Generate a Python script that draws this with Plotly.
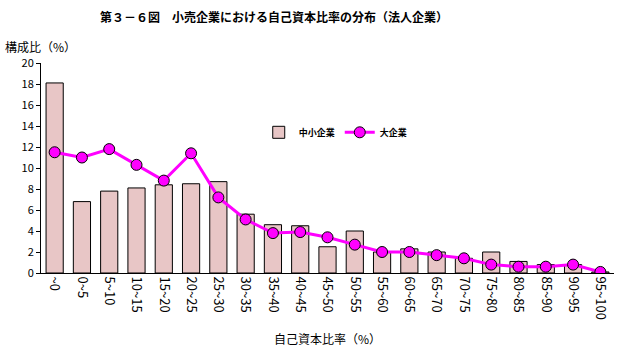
import plotly.graph_objects as go

categories = ["~0", "0~5", "5~10", "10~15", "15~20", "20~25", "25~30", "30~35", "35~40", "40~45",
              "45~50", "50~55", "55~60", "60~65", "65~70", "70~75", "75~80", "80~85", "85~90",
              "90~95", "95~100"]
sme = [18.1, 6.8, 7.8, 8.1, 8.4, 8.5, 8.7, 5.6, 4.6, 4.5,
       2.5, 4.0, 2.0, 2.3, 2.0, 1.4, 2.0, 1.1, 0.8, 0.8, 0.1]
large = [11.5, 11.0, 11.8, 10.3, 8.8, 11.4, 7.2, 5.1, 3.8, 3.9,
         3.4, 2.7, 2.0, 2.0, 1.7, 1.4, 0.8, 0.6, 0.6, 0.8, 0.1]
yticks = list(range(0, 21, 2))

font = "Noto Sans CJK JP"

fig = go.Figure()
fig.add_trace(go.Bar(x=categories, y=sme, name="中小企業", width=0.63,
                     marker=dict(color="#E8C6C6", line=dict(color="black", width=1))))
fig.add_trace(go.Scatter(x=categories, y=large, name="大企業", mode="lines+markers",
                         line=dict(color="#FF00FF", width=3),
                         marker=dict(color="#FF00FF", size=11, line=dict(color="black", width=1))))

fig.update_layout(
    width=620, height=352,
    margin=dict(l=41, r=6, t=63, b=79, autoexpand=False),
    paper_bgcolor="white", plot_bgcolor="white",
    font=dict(family=font, color="black", size=11),
    showlegend=True,
    legend=dict(orientation="h", x=0.38, y=0.67, xanchor="left", yanchor="middle",
                font=dict(size=9, family=font, weight="bold"), bgcolor="rgba(0,0,0,0)",
                tracegroupgap=0),
    title=dict(text="<b>第３－６図　小売企業における自己資本比率の分布（法人企業）</b>",
               x=0.442, xanchor="center", y=0.95, yanchor="middle",
               font=dict(size=12, family=font)),
)
fig.update_xaxes(showline=True, linecolor="black", linewidth=1, tickangle=90, automargin=False,
                 range=[-0.5, len(categories) - 0.5],
                 ticks="", showgrid=False, tickfont=dict(size=13),
                 title=dict(text="自己資本比率（%）", font=dict(size=12), standoff=16))
fig.update_yaxes(range=[0, 20], tickvals=yticks, showline=True, linecolor="black", linewidth=1,
                 automargin=False,
                 ticks="outside", ticklen=4, tickcolor="black", showgrid=False, zeroline=False,
                 tickfont=dict(size=11))
fig.add_annotation(text="構成比（%）", xref="paper", yref="paper", x=-0.066, y=1.03,
                   xanchor="left", yanchor="bottom", showarrow=False, font=dict(size=12))

fig.write_html("out.html")
